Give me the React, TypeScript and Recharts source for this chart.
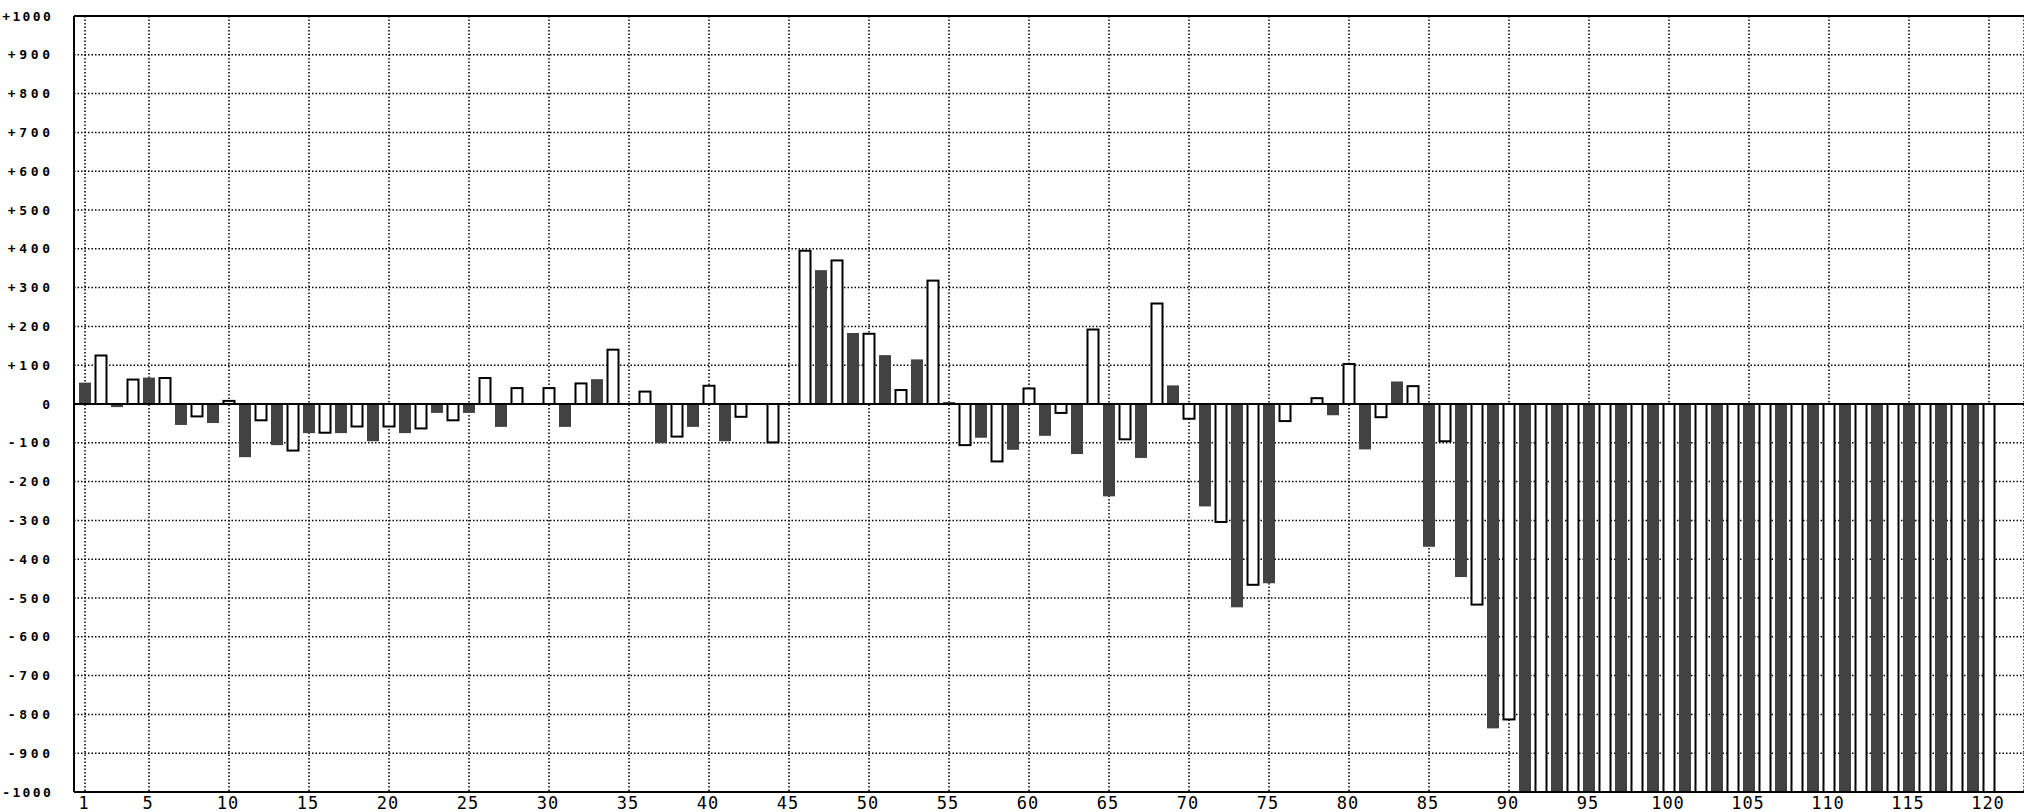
import React from 'react';
import { BarChart, Bar, XAxis, YAxis, CartesianGrid, ReferenceLine } from 'recharts';

// bar index 1..120, odd bars are dark, even bars are outlined white
const categories = Array.from({ length: 120 }, (_, i) => i + 1);

const values = [
  55, 125, -8, 63, 68, 67, -54, -32, -49, 8,
  -137, -42, -106, -120, -75, -74, -75, -58, -96, -58,
  -75, -63, -23, -42, -23, 67, -59, 41, 0, 41,
  -59, 53, 64, 140, 0, 32, -101, -84, -59, 47,
  -96, -33, 0, -99, 0, 395, 345, 370, 183, 181,
  126, 36, 115, 318, 5, -106, -87, -148, -118, 40,
  -82, -23, -129, 192, -238, -91, -139, 259, 48, -38,
  -264, -304, -524, -466, -462, -44, 0, 15, -29, 103,
  -117, -34, 58, 46, -368, -96, -446, -517, -836, -813,
  -1000, -1000, -1000, -1000, -1000, -1000, -1000, -1000, -1000, -1000,
  -1000, -1000, -1000, -1000, -1000, -1000, -1000, -1000, -1000, -1000,
  -1000, -1000, -1000, -1000, -1000, -1000, -1000, -1000, -1000, -1000,
];

const xTicks = [1, 5, 10, 15, 20, 25, 30, 35, 40, 45, 50, 55, 60, 65, 70, 75, 80, 85, 90, 95, 100, 105, 110, 115, 120];
const yTicks = [-1000, -900, -800, -700, -600, -500, -400, -300, -200, -100, 0, 100, 200, 300, 400, 500, 600, 700, 800, 900, 1000];

const data = categories.map((n, i) => ({ n, v: values[i] }));

const DARK = '#424242';
const MONO = '"DejaVu Sans Mono", monospace';

const BarShape = (props: any) => {
  const { x, y, width, height, index } = props;
  const top = Math.min(y, y + height);
  const h = Math.abs(height);
  if (h <= 0) return null;
  if (index % 2 === 0) {
    return <rect x={x} y={top} width={width} height={h} fill={DARK} />;
  }
  return (
    <rect
      x={x + 0.5}
      y={top}
      width={width - 1}
      height={h}
      fill="#fff"
      stroke="#000"
      strokeWidth={2}
    />
  );
};

const fmtY = (v: number) => (v > 0 ? `+${v}` : `${v}`);

// labels end at x=52, wide spaced mono digits
const YTick = (props: any) => {
  const { y, payload } = props;
  const label = fmtY(payload.value);
  const n = label.length;
  const step = n >= 5 ? 10.2 : 11.5;
  const right = 52;
  return (
    <g>
      {label.split('').map((ch, i) => (
        <text
          key={i}
          x={right - (n - i) * step + step / 2}
          y={y}
          dy="0.36em"
          textAnchor="middle"
          fill="#000"
          fontSize={13}
          fontWeight="bold"
          fontFamily={MONO}
        >
          {ch}
        </text>
      ))}
    </g>
  );
};

const XTick = (props: any) => {
  const { x, y, payload } = props;
  return (
    <text
      x={x - 1}
      y={y}
      dy="0.71em"
      textAnchor="middle"
      fill="#000"
      fontSize={17}
      fontFamily={MONO}
      letterSpacing={1}
    >
      {payload.value}
    </text>
  );
};

export default function App() {
  return (
    <div style={{ width: 2024, height: 812, background: '#fff', overflow: 'hidden' }}>
      <style>{`body{margin:0}`}</style>
      <BarChart
        width={2024}
        height={812}
        data={data}
        margin={{ top: 16, right: 0, bottom: 0, left: 0 }}
        barCategoryGap={0}
      >
        <CartesianGrid stroke="#000" strokeWidth={1.5} strokeDasharray="1.5 2" />
        <XAxis
          dataKey="n"
          ticks={xTicks}
          interval={0}
          height={20}
          padding={{ left: 3, right: 27 }}
          tickLine={false}
          tickSize={0}
          tickMargin={5}
          axisLine={{ stroke: '#000', strokeWidth: 2 }}
          tick={<XTick />}
        />
        <YAxis
          domain={[-1000, 1000]}
          ticks={yTicks}
          interval={0}
          width={74}
          tickFormatter={fmtY}
          tickLine={false}
          tickSize={0}
          tickMargin={18}
          axisLine={{ stroke: '#000', strokeWidth: 2 }}
          tick={<YTick />}
        />
        <Bar dataKey="v" barSize={12} shape={BarShape} isAnimationActive={false} />
        <ReferenceLine y={0} stroke="#000" strokeWidth={2} />
        <ReferenceLine y={1000} stroke="#000" strokeWidth={2} />
      </BarChart>
    </div>
  );
}
